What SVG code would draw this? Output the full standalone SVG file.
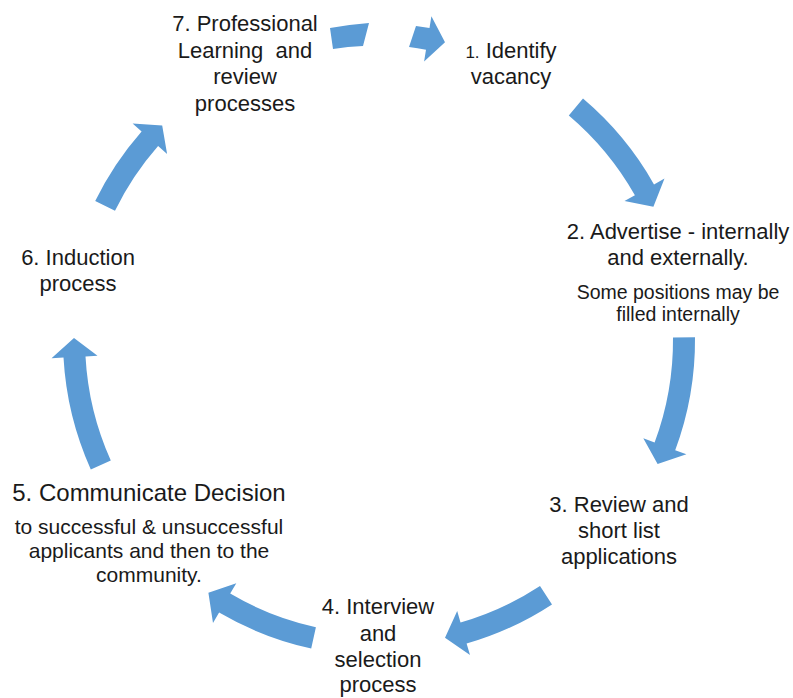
<svg xmlns="http://www.w3.org/2000/svg" width="793" height="698" viewBox="0 0 793 698">
  <style>
    .arrow { fill: #5B9BD5; stroke: none; }
    .t { font-family: "Liberation Sans", Arial, sans-serif; font-size: 22px; fill: #1a1a1a; text-anchor: middle; }
    .s { font-family: "Liberation Sans", Arial, sans-serif; font-size: 19.5px; fill: #1a1a1a; text-anchor: middle; }
    .big { font-size: 24px; }
    .mid { font-size: 21px; }
  </style>
  <rect width="793" height="698" fill="#ffffff"/>

  <!-- curved cycle arrows, centre (379,340), mid radius 305 -->
  <g id="connectors">
    <path class="arrow" d="M330,28 A316,316 0 0 1 369,23 L363,46 A294,294 0 0 0 333,49 Z"/>
    <path class="arrow" d="M416,26 A316,316 0 0 1 429.5,28.1 L431.4,16.2 L445,42.2 L424.1,61.6 L426,49.8 A294,294 0 0 0 409,47 Z"/>
    <path class="arrow" d="M583,98.6 A316,316 0 0 1 654,184.4 L664.5,178.5 L653.4,206.8 L624.5,201.1 L634.9,195.2 A294,294 0 0 0 568.8,115.4 Z"/>
    <path class="arrow" d="M695,337.2 A316,316 0 0 1 675.2,450.2 L686.4,454.3 L657.6,464 L643.3,438.3 L654.6,442.5 A294,294 0 0 0 673,337.4 Z"/>
    <path class="arrow" d="M552,604.4 A316,316 0 0 1 466.6,643.6 L470,655.1 L445,637.8 L457.2,610.9 L460.5,622.5 A294,294 0 0 0 540,586 Z"/>
    <path class="arrow" d="M311.2,648.6 A316,316 0 0 1 219.1,612.6 L213,622.9 L208.4,592.8 L236.3,583.2 L230.2,593.6 A294,294 0 0 0 315.9,627.2 Z"/>
    <path class="arrow" d="M90.8,469.5 A316,316 0 0 1 63.5,357.6 L51.5,358.3 L74,337.9 L97.5,355.7 L85.5,356.4 A294,294 0 0 0 110.8,460.5 Z"/>
    <path class="arrow" d="M95.2,201 A316,316 0 0 1 141.6,131.4 L132.6,123.5 L162.2,125.5 L167.1,153.9 L158.1,146 A294,294 0 0 0 115,210.7 Z"/>
  </g>

  <g id="node1">
    <text class="t" x="511" y="58"><tspan style="font-size:17px">1.</tspan> Identify</text>
    <text class="t" x="511" y="84">vacancy</text>
  </g>

  <g id="node2">
    <text class="t" x="678" y="239">2. Advertise - internally</text>
    <text class="t" x="678" y="265">and externally.</text>
    <text class="s" x="678" y="299">Some positions may be</text>
    <text class="s" x="678" y="321">filled internally</text>
  </g>

  <g id="node3">
    <text class="t" x="619" y="512">3. Review and</text>
    <text class="t" x="619" y="538">short list</text>
    <text class="t" x="619" y="564">applications</text>
  </g>

  <g id="node4">
    <text class="t" x="378" y="614">4. Interview</text>
    <text class="t" x="378" y="641">and</text>
    <text class="t" x="378" y="667">selection</text>
    <text class="t" x="378" y="692">process</text>
  </g>

  <g id="node5">
    <text class="t big" x="149" y="501">5. Communicate Decision</text>
    <text class="s mid" x="149" y="534">to successful &amp; unsuccessful</text>
    <text class="s mid" x="149" y="558">applicants and then to the</text>
    <text class="s mid" x="149" y="582">community.</text>
  </g>

  <g id="node6">
    <text class="t" x="78" y="265">6. Induction</text>
    <text class="t" x="78" y="291">process</text>
  </g>

  <g id="node7">
    <text class="t" x="245" y="31">7. Professional</text>
    <text class="t" x="245" y="57.5" xml:space="preserve">Learning  and</text>
    <text class="t" x="245" y="84">review</text>
    <text class="t" x="245" y="110.5">processes</text>
  </g>
</svg>
